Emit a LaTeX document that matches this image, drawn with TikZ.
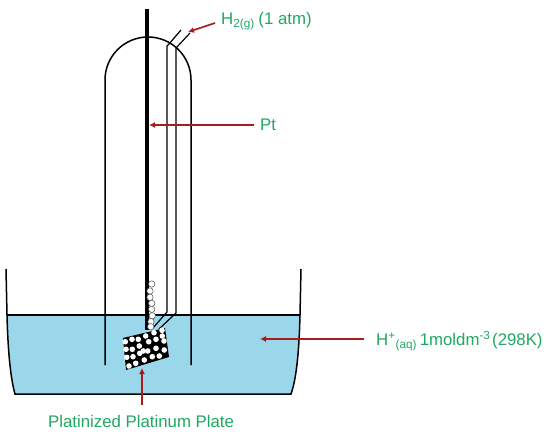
\documentclass[tikz,border=0pt]{standalone}
\usepackage{fontspec}
\setmainfont{Liberation Sans}
\usetikzlibrary{arrows.meta,positioning}
\definecolor{solution}{HTML}{9BD7EA}
\definecolor{pointer}{HTML}{A81C1C}
\definecolor{caption}{HTML}{1FA862}
\begin{document}
\begin{tikzpicture}[
  x=1pt,y=-1pt,>={Latex[length=6pt,width=6pt]},
  glass/.style={draw=black,line width=1.5pt},
  pointerline/.style={->,draw=pointer,line width=1.6pt},
  caption/.style={text=caption,font=\fontsize{16.8}{19}\selectfont,inner sep=0pt,anchor=west},
  bubble/.style={circle,draw=black!70,line width=.5pt,fill=white,minimum size=6.4pt,inner sep=0pt},
  hole/.style={circle,fill=white,minimum size=5.6pt,inner sep=0pt}
]
\useasboundingbox (0,0) rectangle (550,434);
% solution and beaker
\fill[solution] (7,315) -- (300,315) .. controls (299,355) and (296,380) .. (291,394) -- (15,394) .. controls (11,380) and (8,355) .. (7,315) -- cycle;
\draw[glass] (6,269) -- (7,315) .. controls (8,355) and (11,380) .. (15,394) -- (291,394) .. controls (296,380) and (299,355) .. (300,315) -- (301,269);
\draw[glass] (7,315) -- (300,315);
% outer tube
\draw[glass] (105,365) -- (105,80) arc[start angle=180,end angle=360,radius=43] -- (191,365);
% inner tube
\draw[line width=1.2pt] (181,30) -- (169,44) -- (167,46) -- (167,312) -- (153,328);
\draw[line width=1.2pt] (190,33) -- (177,47) -- (176,48) -- (176,313) -- (159,329);
% plate
\fill[black] (123,338) -- (165,328) -- (169,357) -- (126,370) -- cycle;
\foreach \px/\py in {125.3/341.7,132/339.3,138.3/339.3,145.7/336,154/332.7,162/330.3,
  148.7/341.7,156/339.3,164/341,162.3/336,
  126/349.3,132.3/349.3,139.3/346,147.7/351,143.3/351,156/348.3,164.3/350,
  126.7/357.3,133/356.7,139.7/353.3,152.3/356.7,159.3/356,
  129/366,135.7/363.3,144.3/360}
  \node[hole] at (\px,\py) {};
% wire and bubbles
\draw[line width=3.4pt] (147,9) -- (147,330);
\foreach \bx/\by in {151.7/284,150/291,150/297.3,151.7/303.3,151.7/309.3,152.3/315.7,151/321.7,150.7/326.7}
  \node[bubble] at (\bx,\by) {};
% labels
\node[caption] (gas) at (221,21) {H\textsubscript{2(g)}\hspace{-1pt} (1 atm)};
\node[caption] (metal) at (260,125) {Pt};
\node[caption] (acid) at (376,341) {H\textsuperscript{+}\textsubscript{(aq)}\hspace{-2pt} 1moldm\textsuperscript{-3}\hspace{-3pt} (298K)};
\node[caption] (plate) at (48,421) {Platinized Platinum Plate};
\coordinate (gastip) at (188,32);
\coordinate (metaltip) at (149,125);
\coordinate (acidtip) at (260,339);
\coordinate (platetip) at (142,368);
\draw[pointerline] ([xshift=-6pt,yshift=-2pt]gas.west) -- (gastip);
\draw[pointerline] ([xshift=-6pt]metal.west |- metaltip) -- (metaltip);
\draw[pointerline] ([xshift=-12pt]acid.west |- acidtip) -- (acidtip);
\draw[pointerline] ([yshift=10pt]plate.north -| platetip) -- (platetip);
\end{tikzpicture}
\end{document}
